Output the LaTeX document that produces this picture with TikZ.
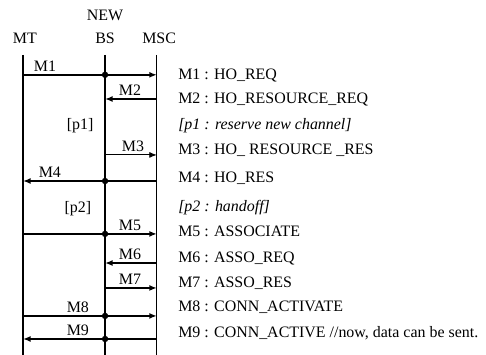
\documentclass[tikz,border=0pt]{standalone}
\usepackage{fontspec}
\setmainfont{Liberation Serif}
\usetikzlibrary{arrows.meta}

\begin{document}
\begin{tikzpicture}[x=1cm,y=1cm,font=\fontsize{12}{14}\selectfont,
  life/.style={line width=0.9pt},
  msg/.style={line width=1.3pt,-{Latex[length=2mm,width=1.6mm]}},
  thinmsg/.style={line width=0.7pt,-{Latex[length=2mm,width=1.6mm]}},
  relay/.style={circle,fill,inner sep=0pt,minimum size=1.7mm},
  tag/.style={anchor=base,inner sep=0pt},
  row/.style={anchor=base west,inner sep=0pt}]
\path[use as bounding box] (0,0) rectangle (12.86,9.39);
\node[tag] (mt) at (0.66,8.25) {MT};
\node[tag] (new) at (2.78,8.86) {NEW};
\node[tag] (bs) at (2.78,8.25) {BS};
\node[tag] (msc) at (4.21,8.25) {MSC};
\foreach \x/\n in {0.61/mt,2.78/bs,4.15/msc} {
  \coordinate (\n0) at (\x,7.94);
  \coordinate (\n10) at (\x,0);
}
\draw[life] (mt0) -- (mt10);
\draw[life] (bs0) -- (bs10);
\draw[life] (msc0) -- (msc10);
\foreach \k/\y in {1/7.41,2/6.77,3/5.29,4/4.60,5/3.20,6/2.43,7/1.77,8/1.03,9/0.42} {
  \coordinate (mt\k) at (0.61,\y);
  \coordinate (bs\k) at (2.78,\y);
  \coordinate (msc\k) at (4.15,\y);
}
\draw[msg] (mt1) -- (msc1);
\draw[msg] (msc2) -- (bs2);
\draw[thinmsg] (bs3) -- (msc3);
\draw[msg] (msc4) -- (mt4);
\draw[msg] (mt5) -- (msc5);
\draw[msg] (msc6) -- (bs6);
\draw[msg] (bs7) -- (msc7);
\draw[msg] (mt8) -- (msc8);
\draw[msg] (msc9) -- (mt9);
\node[relay] (r1) at (bs1) {};
\node[relay] (r4) at (bs4) {};
\node[relay] (r5) at (bs5) {};
\node[relay] (r8) at (bs8) {};
\node[relay] (r9) at (bs9) {};
\node[tag] (m1) at (1.19,7.51) {M1};
\node[tag] (m2) at (3.44,6.87) {M2};
\node[tag] (p1) at (2.12,5.95) {[p1]};
\node[tag] (m3) at (3.52,5.39) {M3};
\node[tag] (m4) at (1.32,4.70) {M4};
\node[tag] (p2) at (2.06,3.78) {[p2]};
\node[tag] (m5) at (3.44,3.30) {M5};
\node[tag] (m6) at (3.44,2.53) {M6};
\node[tag] (m7) at (3.44,1.87) {M7};
\node[tag] (m8) at (2.06,1.13) {M8};
\node[tag] (m9) at (2.06,0.52) {M9};
\node[row] (t1) at (4.71,7.28) {M1 : HO\_REQ};
\node[row] (t2) at (4.71,6.64) {M2 : HO\_RESOURCE\_REQ};
\node[row] (t3) at (4.71,5.95) {\itshape [p1 : reserve new channel]};
\node[row] (t4) at (4.71,5.29) {M3 : HO\_ RESOURCE \_RES};
\node[row] (t5) at (4.71,4.55) {M4 : HO\_RES};
\node[row] (t6) at (4.71,3.79) {\itshape [p2 : handoff]};
\node[row] (t7) at (4.71,3.12) {M5 : ASSOCIATE};
\node[row] (t8) at (4.71,2.44) {M6 : ASSO\_REQ};
\node[row] (t9) at (4.71,1.77) {M7 : ASSO\_RES};
\node[row] (t10) at (4.71,1.14) {M8 : CONN\_ACTIVATE};
\node[row] (t11) at (4.71,0.45) {M9 : CONN\_ACTIVE //now, data can be sent.};
\end{tikzpicture}
\end{document}
